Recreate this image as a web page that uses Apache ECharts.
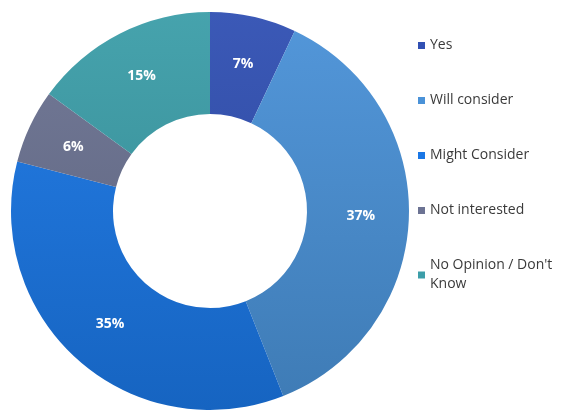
<!DOCTYPE html>
<html>
<head>
<meta charset="utf-8">
<script src="https://cdn.jsdelivr.net/npm/echarts@6/dist/echarts.min.js"></script>
<style>html,body{margin:0;padding:0;background:#fff}#c{width:574px;height:411px}</style>
</head>
<body>
<div id="c"></div>
<script>
const categories = ["Yes", "Will consider", "Might Consider", "Not interested", "No Opinion / Don't\nKnow"];
const values = [7, 37, 35, 6, 15];
const colors = ["#3150b3", "#4a92d8", "#1a77e6", "#6c7393", "#3c9ea9"];

function shade(hex, f) {
  const n = parseInt(hex.slice(1), 16);
  let r = (n >> 16) & 255, g = (n >> 8) & 255, b = n & 255;
  const adj = v => Math.max(0, Math.min(255, Math.round(f >= 0 ? v + (255 - v) * f : v * (1 + f))));
  return 'rgb(' + adj(r) + ',' + adj(g) + ',' + adj(b) + ')';
}
function grad(c) {
  return {
    type: 'linear', x: 0, y: 10, x2: 0, y2: 410, global: true,
    colorStops: [{offset: 0, color: shade(c, 0.05)}, {offset: 1, color: shade(c, -0.16)}]
  };
}

const chart = echarts.init(document.getElementById('c'));
chart.setOption({
  animation: false,
  legend: {
    orient: 'vertical',
    left: 413,
    top: 31,
    itemWidth: 7,
    itemHeight: 7,
    itemGap: 36,
    icon: 'rect',
    textStyle: { fontFamily: 'Open Sans', fontSize: 14, color: '#3a3a3a', lineHeight: 19 },
    data: categories.map((n, i) => ({ name: n, itemStyle: { color: colors[i] } }))
  },
  series: [{
    type: 'pie',
    center: [210, 211],
    radius: [97, 199],
    startAngle: 90,
    clockwise: true,
    label: {
      show: true,
      position: 'inside',
      formatter: '{c}%',
      color: '#fff',
      fontFamily: 'Open Sans',
      fontWeight: 'bold',
      fontSize: 14
    },
    labelLine: { show: false },
    itemStyle: { borderWidth: 0 },
    emphasis: { disabled: true },
    data: categories.map((n, i) => ({ name: n, value: values[i], itemStyle: { color: grad(colors[i]) } }))
  }]
});
</script>
</body>
</html>
